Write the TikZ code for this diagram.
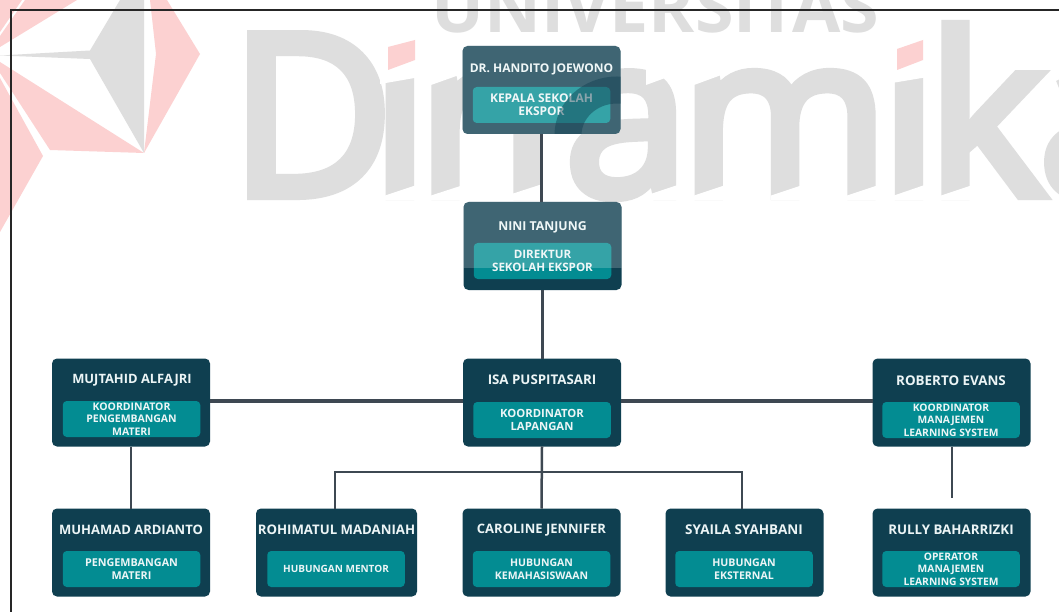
\documentclass[tikz,border=0pt]{standalone}
\usepackage{fontspec}
\setmainfont{Open Sans}
\newfontfamily\wmfont[FakeBold=4.5]{Open Sans}
\usetikzlibrary{calc}
\definecolor{carddark}{RGB}{15,63,80}
\definecolor{roleteal}{RGB}{3,140,146}
\definecolor{wmgrey}{RGB}{222,222,222}
\definecolor{wmpink}{RGB}{252,209,209}
\definecolor{linegrey}{RGB}{62,72,82}
\definecolor{labelwhite}{RGB}{236,245,246}
\tikzset{
  card/.style={fill=carddark,rounded corners=5pt,minimum width=158pt,minimum height=88pt,inner sep=0pt,outer sep=0pt},
  rolebox/.style={fill=roleteal,rounded corners=4pt,minimum width=137.5pt,minimum height=36pt,inner sep=0pt,outer sep=0pt,
    text=labelwhite,align=center},
  rolefont/.style 2 args={font=\bfseries\fontsize{#1}{#2}\selectfont},
  namelabel/.style={text=labelwhite,inner sep=0pt,font=\bfseries\fontsize{#1}{14}\selectfont},
  thick conn/.style={draw=linegrey,line width=3.2pt},
  thin conn/.style={draw=linegrey,line width=2pt},
  logopink/.style={fill=wmpink},
  logogrey/.style={fill=wmgrey},
  maskwhite/.style={fill=white},
}
\begin{document}
\begin{tikzpicture}[x=1pt,y=-1pt]
\useasboundingbox (0,0) rectangle (1059,612);
\fill[white] (0,0) rectangle (1059,612);
\begin{scope}
\clip (0,0) rectangle (1059,612);
% logo star
\fill[logogrey] (120,0) -- (144,0) -- (144,153) -- (90,59) -- (0,55.5) -- (90,50.5) -- cycle;
\fill[logopink] (150,0) -- (167,0) -- (200,54) -- (144,153) -- (156,54) -- cycle;
\fill[logopink] (0,62) -- (144,153) -- (50,150) -- (0,73) -- cycle;
\fill[logopink] (0,78) -- (43,156) -- (0,232) -- cycle;
\fill[logopink] (25,0) -- (77,0) -- (0,47) -- (0,36) -- cycle;
\fill[logopink] (0,0) -- (22,0) -- (0,32) -- cycle;
% watermark text
\node[anchor=base west,inner sep=0pt,text=wmgrey,font=\wmfont\fontsize{224}{224}\selectfont] (wmword) at (230,195)
  {D\kern-22pt i\kern-11pt n\kern10pt a\kern-9pt m\kern-8pt i\kern-10pt k\kern-6pt a};
\node[anchor=base west,inner sep=0pt,text=wmgrey,font=\bfseries\fontsize{70}{70}\selectfont] (wmtop) at (431,33) {UNIVERSITAS};
\end{scope}
% masks shaping the slanted stems and the pink dots
\fill[maskwhite] (380,14) -- (426,14) -- (426,76) -- (380,84) -- cycle;
\fill[maskwhite] (886,14) -- (934,14) -- (934,76) -- (886,84) -- cycle;
\fill[wmpink] (388,47) -- (415,40) -- (415,60) -- (388,70) -- cycle;
\fill[wmpink] (897,49) -- (923,40) -- (923,60) -- (897,70) -- cycle;
\foreach \sx/\sw in {388/27,434/28,510/28,649/27,697/27,774/27,850/27,897/26,944/27}{
  \fill[maskwhite] (\sx-3,195.5) -- (\sx+\sw+3,184.5) -- (\sx+\sw+3,200) -- (\sx-3,200) -- cycle;
}
\foreach \sx/\sw in {434/28,649/27,697/27}{
  \fill[maskwhite] (\sx-3,85) -- (\sx+\sw,74) -- (\sx+\sw,68) -- (\sx-3,68) -- cycle;
}
% cards
\node[card] (hand) at (541.5,90) {};
\node[card] (nini) at (542.5,246) {};
\node[card] (muj) at (131,402.5) {};
\node[card] (isa) at (542,402.5) {};
\node[card] (rob) at (951.5,402.5) {};
\node[card] (muh) at (131,552.5) {};
\node[card,minimum width=161pt] (roh) at (336.5,552.5) {};
\node[card] (car) at (541.5,552.5) {};
\node[card] (sya) at (744.5,552.5) {};
\node[card] (rul) at (951.5,552.5) {};
% connectors
\coordinate (busL) at (335,472);
\coordinate (busR) at (742,472);
\coordinate (robend) at (951.5,498);
\draw[thick conn] (hand.south) -- (hand.south |- nini.north);
\draw[thick conn] (nini.south) -- (nini.south |- isa.north);
\draw[thick conn] ([yshift=1.5pt]muj.east) -- ([yshift=1.5pt]isa.west);
\draw[thick conn] ([yshift=1.5pt]isa.east) -- ([yshift=1.5pt]rob.west);
\draw[thin conn] (muj.south) -- (muh.north);
\draw[thin conn] (rob.south) -- (robend);
\draw[thin conn,line width=2.5pt] (isa.south) -- (car.north);
\draw[thin conn] (busL |- roh.north) -- (busL) -- (busR) -- (busR |- sya.north);
% labels
\node[namelabel=12] (hand n) at (541.5,69) {DR. HANDITO JOEWONO};
\node[namelabel=12.3] (nini n) at (542.5,227) {NINI TANJUNG};
\node[namelabel=12.9] (muj n) at (132,380) {MUJTAHID ALFAJRI};
\node[namelabel=13.3] (isa n) at (542,380) {ISA PUSPITASARI};
\node[namelabel=13.4] (rob n) at (951,381) {ROBERTO EVANS};
\node[namelabel=13] (muh n) at (131,530) {MUHAMAD ARDIANTO};
\node[namelabel=13.2] (roh n) at (336.5,530) {ROHIMATUL MADANIAH};
\node[namelabel=13] (car n) at (541.5,530) {CAROLINE JENNIFER};
\node[namelabel=13.5] (sya n) at (744,530) {SYAILA SYAHBANI};
\node[namelabel=13.3] (rul n) at (951,530) {RULLY BAHARRIZKI};
\node[rolebox,rolefont={12}{13}] (hand r) at (541.5,105) {KEPALA SEKOLAH\\EKSPOR};
\node[rolebox,rolefont={11.6}{13}] (nini r) at (542.5,261) {DIREKTUR\\SEKOLAH EKSPOR};
\node[rolebox,rolefont={10.5}{12.4}] (muj r) at (131.5,419) {KOORDINATOR\\PENGEMBANGAN\\MATERI};
\node[rolebox,rolefont={11.3}{13.4}] (isa r) at (542,420) {KOORDINATOR\\LAPANGAN};
\node[rolebox,rolefont={10.3}{12.4}] (rob r) at (951,420) {KOORDINATOR\\MANAJEMEN\\LEARNING SYSTEM};
\node[rolebox,rolefont={10.8}{13.4}] (muh r) at (131.5,569) {PENGEMBANGAN\\MATERI};
\node[rolebox,rolefont={10}{13}] (roh r) at (336,569) {HUBUNGAN MENTOR};
\node[rolebox,rolefont={10.5}{13.4}] (car r) at (541.5,569) {HUBUNGAN\\KEMAHASISWAAN};
\node[rolebox,rolefont={10.6}{13.4}] (sya r) at (744,569) {HUBUNGAN\\EKSTERNAL};
\node[rolebox,rolefont={10.3}{12.4}] (rul r) at (951,569) {OPERATOR\\MANAJEMEN\\LEARNING SYSTEM};
% watermark veil over the two upper cards
\begin{scope}
\clip (463,40) rectangle (622,267);
\fill[white,opacity=.2,rounded corners=5pt] (hand.south west) rectangle (hand.north east);
\fill[white,opacity=.2,rounded corners=5pt] (nini.south west) rectangle (nini.north east);
\end{scope}
\begin{scope}
\clip[rounded corners=5pt] (hand.south west) rectangle (hand.north east);
\draw[carddark,opacity=.45,line width=27pt] (448,136) arc (180:0:38 and 46);
\draw[carddark,opacity=.45,line width=27pt] (617,135) ellipse (49 and 45);
\end{scope}
% frame
\draw[black!85,line width=1.2pt] (1059,10) -- (11,10) -- (11,612);
\end{tikzpicture}
\end{document}
